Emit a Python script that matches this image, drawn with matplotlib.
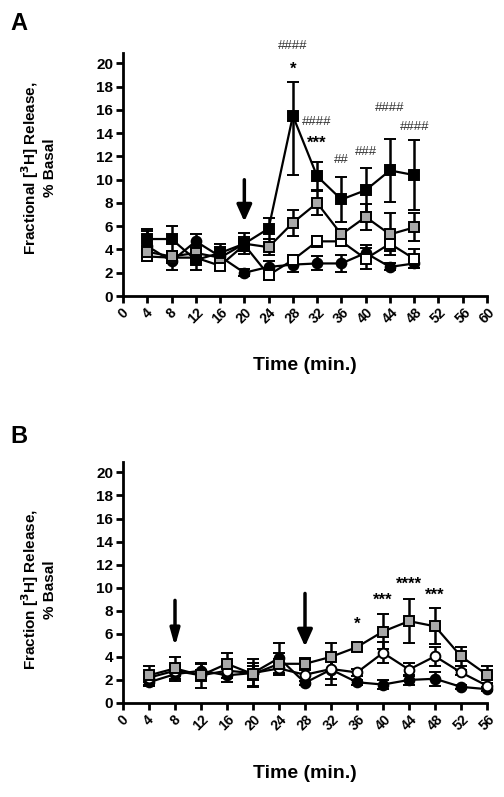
import matplotlib
matplotlib.use("Agg")
import matplotlib.pyplot as plt
import numpy as np

plt.rcParams['font.family'] = ['Liberation Sans', 'DejaVu Sans']
plt.rcParams['font.weight'] = 'bold'

# ---------------- Panel A data ----------------
tA = [4, 8, 12, 16, 20, 24, 28, 32, 36, 40, 44, 48]
A_black_sq = [4.9, 4.9, 3.1, 3.7, 4.5, 5.8, 15.5, 10.3, 8.3, 9.1, 10.8, 10.4]
A_black_sq_err_lo = [0.9, 1.1, 0.9, 0.8, 0.9, 0.9, 5.1, 1.2, 1.9, 1.9, 2.7, 3.0]
A_black_sq_err_hi = [0.9, 1.1, 0.9, 0.8, 0.9, 0.9, 2.9, 1.2, 1.9, 1.9, 2.7, 3.0]
A_gray_sq = [3.8, 3.4, 3.7, 3.3, 4.5, 4.2, 6.3, 8.0, 5.3, 6.8, 5.3, 5.9]
A_gray_sq_err = [0.5, 0.5, 0.6, 0.5, 0.6, 0.7, 1.1, 1.0, 0.5, 1.1, 1.8, 1.2]
A_white_sq = [3.4, 3.3, 3.3, 2.6, 4.4, 1.8, 3.1, 4.7, 4.7, 3.2, 4.5, 3.2]
A_white_sq_err = [0.4, 0.5, 0.5, 0.4, 0.5, 0.4, 0.4, 0.5, 0.4, 0.9, 0.6, 0.8]
A_black_ci = [4.3, 3.0, 4.7, 3.4, 2.0, 2.5, 2.7, 2.8, 2.8, 3.7, 2.5, 2.8]
A_black_ci_err = [1.3, 0.8, 0.6, 0.8, 0.3, 0.5, 0.6, 0.6, 0.7, 0.7, 0.3, 0.4]

annA_t = [28, 28, 32, 32, 36, 40, 44, 48]
annA_y = [21.5, 19.8, 15.0, 13.45, 11.7, 12.35, 16.2, 14.5]
annA_txt = ['####', '*', '####', '***', '##', '###', '####', '####']

arrowA_t = [20]
arrowA_tail = [10.0]
arrowA_tip = [6.4]

xticksA = list(range(0, 61, 4))

# ---------------- Panel B data ----------------
tB = [4, 8, 12, 16, 20, 24, 28, 32, 36, 40, 44, 48, 52, 56]
B_gray_sq = [2.4, 3.0, 2.4, 3.4, 2.5, 3.4, 3.4, 4.0, 4.85, 6.2, 7.1, 6.65, 4.05, 2.45]
B_gray_sq_err = [0.8, 0.95, 1.1, 0.9, 1.0, 0.9, 0.5, 1.2, 0.35, 1.5, 1.9, 1.55, 0.8, 0.75]
B_white = [2.2, 2.8, 2.4, 2.8, 2.6, 3.0, 2.45, 2.95, 2.65, 4.35, 2.9, 4.05, 2.65, 1.5]
B_white_err = [0.4, 0.5, 0.5, 0.6, 0.6, 0.6, 0.5, 0.9, 0.3, 0.9, 0.6, 0.8, 0.2, 0.2]
B_black_ci = [1.8, 2.5, 2.8, 2.4, 2.6, 3.9, 1.75, 2.9, 1.8, 1.6, 2.0, 2.1, 1.4, 1.2]
B_black_ci_err = [0.3, 0.6, 0.6, 0.6, 1.2, 1.3, 0.2, 1.3, 0.2, 0.4, 0.4, 0.6, 0.15, 0.15]

annB_t = [36, 40, 44, 48]
annB_y = [7.1, 9.2, 10.6, 9.6]
annB_txt = ['*', '***', '****', '***']

arrowB_t = [8, 28]
arrowB_tail = [8.9, 9.5]
arrowB_tip = [4.9, 4.9]

xticksB = list(range(0, 57, 4))
yticks = list(range(0, 21, 2))

GRAY = '#a8a8a8'

fig = plt.figure(figsize=(5.04, 7.97), dpi=100)
W, H = 504, 797


def px_axes(left, right, top, bottom):
    return fig.add_axes([left / W, 1 - bottom / H, (right - left) / W, (bottom - top) / H])


axA = px_axes(123, 487, 53, 296)
axB = px_axes(123, 487, 462, 703)


def series(ax, x, y, e, marker, face, ms):
    ax.errorbar(x, y, yerr=e, color='black', lw=1.6, elinewidth=1.8, capsize=4.5,
                capthick=1.8, marker=marker, ms=ms, mfc=face, mec='black', mew=1.4,
                zorder=3, clip_on=False)


def style(ax, xmax, xticks):
    ax.set_xlim(0, xmax)
    ax.set_ylim(0, 20.9)
    for s in ['top', 'right']:
        ax.spines[s].set_visible(False)
    for s in ['left', 'bottom']:
        ax.spines[s].set_linewidth(2.0)
    ax.set_yticks(yticks)
    ax.set_yticklabels([str(v) for v in yticks], fontsize=11, fontweight='bold')
    ax.set_xticks(xticks)
    ax.set_xticklabels([str(v) for v in xticks], fontsize=10, fontweight='bold',
                       rotation=45, ha='center', va='top')
    ax.tick_params(axis='both', direction='out', length=5, width=2.0, pad=2)


def mark(ax, t, y, s):
    if '#' in s:
        ax.text(t, y, s, ha='center', va='center', fontsize=9.5, color='#333333',
                fontweight='normal', clip_on=False)
    else:
        ax.text(t, y - 0.3, s, ha='center', va='center', fontsize=12, color='black',
                fontweight='bold', clip_on=False)


# Panel A
series(axA, tA, A_black_ci, A_black_ci_err, 'o', 'black', 7)
series(axA, tA, A_white_sq, A_white_sq_err, 's', 'white', 7.5)
series(axA, tA, A_gray_sq, A_gray_sq_err, 's', GRAY, 7.5)
series(axA, tA, A_black_sq, [A_black_sq_err_lo, A_black_sq_err_hi], 's', 'black', 7.5)
style(axA, 60, xticksA)
for t, y, s in zip(annA_t, annA_y, annA_txt):
    mark(axA, t, y, s)
for t, a, b in zip(arrowA_t, arrowA_tail, arrowA_tip):
    axA.annotate('', xy=(t, b), xytext=(t, a),
                 arrowprops=dict(arrowstyle='-|>,head_length=1.0,head_width=0.45',
                                 lw=2.5, color='black', shrinkA=0, shrinkB=0))

# Panel B
series(axB, tB, B_black_ci, B_black_ci_err, 'o', 'black', 7)
series(axB, tB, B_white, B_white_err, 'o', 'white', 7)
series(axB, tB, B_gray_sq, B_gray_sq_err, 's', GRAY, 7.5)
style(axB, 56, xticksB)
for t, y, s in zip(annB_t, annB_y, annB_txt):
    mark(axB, t, y, s)
heads = ['-|>,head_length=1.0,head_width=0.28', '-|>,head_length=1.0,head_width=0.45']
for (t, a, b), hs in zip(zip(arrowB_t, arrowB_tail, arrowB_tip), heads):
    axB.annotate('', xy=(t, b), xytext=(t, a),
                 arrowprops=dict(arrowstyle=hs, lw=2.5, color='black', shrinkA=0, shrinkB=0))

# labels
fig.text(38 / W, 1 - 168 / H, 'Fractional [$^{\\mathbf{3}}$H] Release,\n% Basal', rotation=90,
         ha='center', va='center', fontsize=11, fontweight='bold', multialignment='center')
fig.text(38 / W, 1 - 590 / H, 'Fraction [$^{\\mathbf{3}}$H] Release,\n% Basal', rotation=90,
         ha='center', va='center', fontsize=11, fontweight='bold', multialignment='center')
fig.text(305 / W, 1 - 365 / H, 'Time (min.)', ha='center', va='center', fontsize=14,
         fontweight='bold')
fig.text(305 / W, 1 - 774 / H, 'Time (min.)', ha='center', va='center', fontsize=14,
         fontweight='bold')
fig.text(10 / W, 1 - 12 / H, 'A', ha='left', va='top', fontsize=17, fontweight='bold')
fig.text(10 / W, 1 - 425 / H, 'B', ha='left', va='top', fontsize=17, fontweight='bold')

fig.savefig('out.png', dpi=100)
